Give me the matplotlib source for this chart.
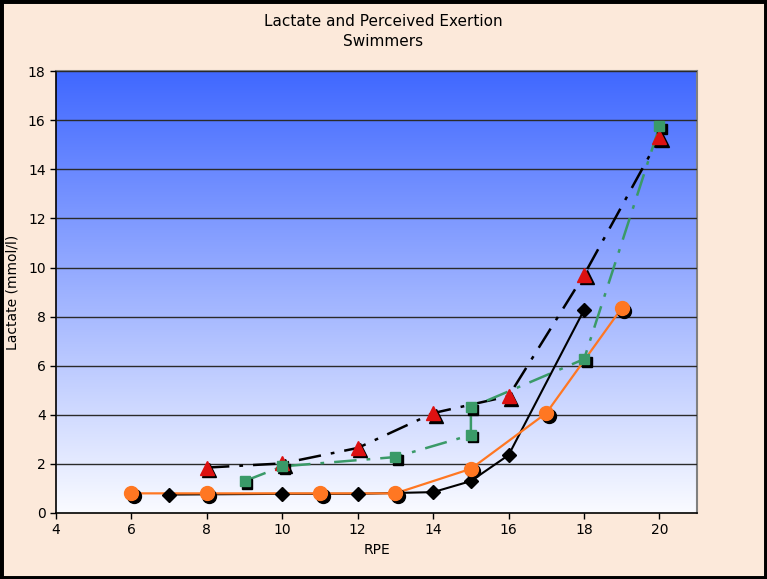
import numpy as np
import matplotlib
matplotlib.use("Agg")
import matplotlib.pyplot as plt
from matplotlib import transforms
from matplotlib.patches import Rectangle

# RPE vs lactate for four swimmers
diamond_x = [7, 10, 12, 14, 15, 16, 18]
diamond_y = [0.75, 0.78, 0.78, 0.85, 1.3, 2.36, 8.27]

circle_x = [6, 8, 11, 13, 15, 17, 19]
circle_y = [0.8, 0.8, 0.8, 0.8, 1.8, 4.07, 8.35]

triangle_x = [8, 10, 12, 14, 16, 18, 20]
triangle_y = [1.85, 2.02, 2.65, 4.07, 4.76, 9.7, 15.3]

square_x = [9, 10, 13, 15, 15, 18, 20]
square_y = [1.3, 1.9, 2.28, 3.18, 4.3, 6.27, 15.75]

x_ticks = [4, 6, 8, 10, 12, 14, 16, 18, 20]
y_ticks = [0, 2, 4, 6, 8, 10, 12, 14, 16, 18]

BG = "#fce9da"

fig = plt.figure(figsize=(7.67, 5.79), dpi=100, facecolor=BG)
ax = fig.add_axes([0.073, 0.114, 0.836, 0.763])
ax.set_xlim(4, 21)
ax.set_ylim(0, 18)

# blue-to-white gradient background
grad = np.linspace(0, 1, 256).reshape(-1, 1)
top = np.array([0x40, 0x68, 0xff]) / 255
bottom = np.array([0xfa, 0xfb, 0xff]) / 255
img = top * (1 - grad)[..., None] + bottom * grad[..., None]
ax.imshow(img, extent=[4, 21, 0, 18], aspect="auto", origin="upper", zorder=0)

ax.set_yticks(y_ticks)
ax.set_xticks(x_ticks)
ax.yaxis.grid(True, color="#2a2a2a", lw=1)
ax.set_axisbelow(False)
for gl in ax.get_ygridlines():
    gl.set_zorder(1)

for side in ["top", "right"]:
    ax.spines[side].set_color("#808080")
    ax.spines[side].set_linewidth(1.5)
for side in ["left", "bottom"]:
    ax.spines[side].set_color("black")
    ax.spines[side].set_linewidth(1.2)
ax.tick_params(direction="out", length=4, width=1, labelsize=10, colors="black")

shadow = transforms.offset_copy(ax.transData, fig=fig, x=2.5, y=-2.5, units="dots")

# black dash-dot line, red triangles
ax.plot(triangle_x, triangle_y, color="black", lw=1.8, dashes=[9, 4, 1.5, 4], zorder=3)
ax.plot(triangle_x, triangle_y, ls="none", marker="^", ms=9.5, color="black", transform=shadow, zorder=4)
ax.plot(triangle_x, triangle_y, ls="none", marker="^", ms=9.5, color="#dd1111", zorder=5)

# green dash-dot line, green squares
ax.plot(square_x, square_y, color="#3a9a68", lw=1.8, dashes=[9, 4, 1.5, 4], zorder=3)
ax.plot(square_x, square_y, ls="none", marker="s", ms=7, color="black", transform=shadow, zorder=4)
ax.plot(square_x, square_y, ls="none", marker="s", ms=7, color="#3a9a68", zorder=5)

# black solid line, diamonds
ax.plot(diamond_x, diamond_y, color="black", lw=1.5, zorder=3)
ax.plot(diamond_x, diamond_y, ls="none", marker="D", ms=7.5, color="black", zorder=5)

# orange solid line, circles
ax.plot(circle_x, circle_y, color="#ff7722", lw=1.6, zorder=3)
ax.plot(circle_x, circle_y, ls="none", marker="o", ms=10, color="black", transform=shadow, zorder=4)
ax.plot(circle_x, circle_y, ls="none", marker="o", ms=10, color="#ff7722", zorder=5)

ax.set_xlabel("RPE", fontsize=10, labelpad=4)
ax.set_ylabel("Lactate (mmol/l)", fontsize=10, labelpad=6)
fig.text(0.5, 0.945, "Lactate and Perceived Exertion\nSwimmers", ha="center", va="center",
         fontsize=11, linespacing=1.4)

# thick black border round the figure
fig.patches.append(Rectangle((0, 0), 1, 1, transform=fig.transFigure, fill=False,
                             edgecolor="black", lw=5, zorder=10))

fig.savefig("out.png", dpi=100, facecolor=BG)
